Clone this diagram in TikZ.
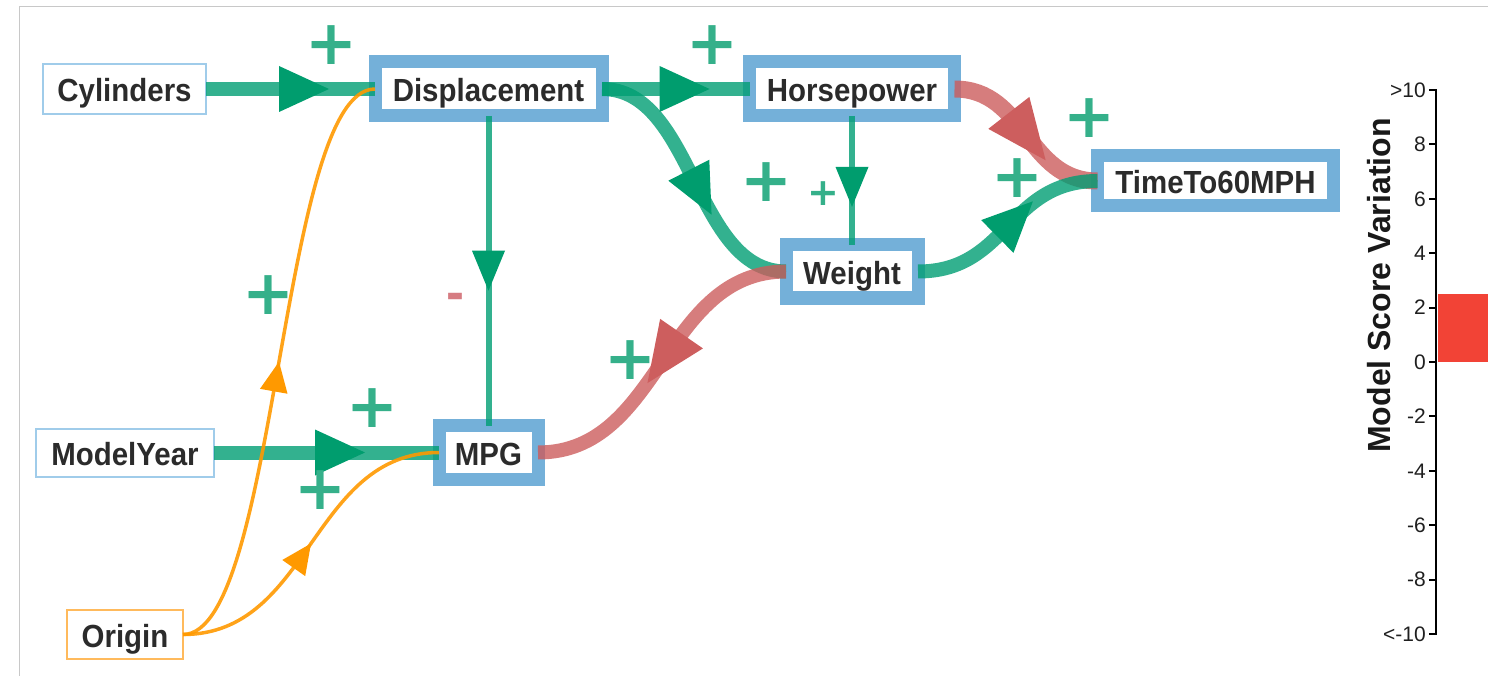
\documentclass[tikz,border=0pt]{standalone}
\usepackage{fontspec}
\usetikzlibrary{decorations.markings}
\newfontfamily\nodefont[FakeStretch=0.92]{Liberation Sans}
\newfontfamily\signfont{DejaVu Sans}
\newfontfamily\axisfont{Liberation Sans}

\definecolor{boxblue}{RGB}{116,176,217}
\definecolor{paleblue}{RGB}{160,204,234}
\definecolor{paleorange}{RGB}{255,186,92}
\definecolor{txt}{RGB}{43,43,43}
\definecolor{linkgreen}{RGB}{0,158,115}
\definecolor{headgreen}{RGB}{0,157,110}
\definecolor{linkred}{RGB}{204,92,92}
\definecolor{headred}{RGB}{205,94,94}
\definecolor{linkorange}{RGB}{255,153,0}
\definecolor{signgreen}{RGB}{53,176,138}
\definecolor{signred}{RGB}{214,124,130}
\definecolor{framegray}{RGB}{200,200,200}
\definecolor{barred}{RGB}{242,67,54}

\tikzset{
  labelfont/.style={font=\nodefont\bfseries\fontsize{32}{36}\selectfont, text=txt,
    text height=26pt, text depth=0pt},
  thickbox/.style={labelfont, draw=boxblue, line width=13pt, fill=white,
    outer sep=0pt, inner sep=0pt},
  thinbox/.style={labelfont, draw=#1, line width=2pt, fill=white,
    outer sep=0pt, inner sep=0pt},
  greenlink/.style={draw=linkgreen, draw opacity=0.8, line width=14pt},
  thingreen/.style={draw=linkgreen, draw opacity=0.8, line width=6pt},
  redlink/.style={draw=linkred, draw opacity=0.8, line width=#1},
  orangelink/.style={draw=linkorange, draw opacity=0.9, line width=3.5pt},
  bighead/.style 2 args={postaction={decorate}, decoration={markings,
    mark=at position #1 with {\fill[#2] (-25pt,23pt) -- (25pt,0pt) -- (-25pt,-23pt) -- cycle;}}},
  redhead/.style={postaction={decorate}, decoration={markings,
    mark=at position #1 with {\fill[headred] (-28pt,26pt) -- (32pt,0pt) -- (-28pt,-26pt) -- cycle;}}},
  smallhead/.style={postaction={decorate}, decoration={markings,
    mark=at position #1 with {\fill[headgreen] (-20pt,16.5pt) -- (20pt,0pt) -- (-20pt,-16.5pt) -- cycle;}}},
  orangehead/.style={postaction={decorate}, decoration={markings,
    mark=at position #1 with {\fill[linkorange] (-30pt,14pt) -- (0pt,0pt) -- (-30pt,-14pt) -- cycle;}}},
  plus/.style={font=\signfont\bfseries\fontsize{62}{62}\selectfont, text=signgreen, inner sep=0pt},
  smallplus/.style={font=\signfont\bfseries\fontsize{38}{38}\selectfont, text=signgreen, inner sep=0pt},
  minus/.style={font=\axisfont\bfseries\fontsize{54}{54}\selectfont, text=signred, inner sep=0pt},
  ticklabel/.style={font=\axisfont\fontsize{21}{24}\selectfont, text=black!88, anchor=east, inner sep=0pt},
}

\begin{document}
\begin{tikzpicture}[x=1pt,y=-1pt]
\useasboundingbox (0,0) rectangle (1488,676);
% panel frame
\draw[framegray, line width=1.5pt] (19.5,676) -- (19.5,6.5) -- (1488,6.5);

% variables
\node[thinbox=paleblue, minimum width=163pt, minimum height=50pt] (cyl) at (124.5,89) {Cylinders};
\node[thinbox=paleblue, minimum width=178pt, minimum height=48pt] (my) at (125,452.5) {ModelYear};
\node[thinbox=paleorange, minimum width=116pt, minimum height=49pt] (orig) at (125,634.5) {Origin};
\node[thickbox, minimum width=227pt, minimum height=54pt] (disp) at (488.5,89) {Displacement};
\node[thickbox, minimum width=205pt, minimum height=54pt] (hp) at (852,89) {Horsepower};
\node[thickbox, minimum width=132pt, minimum height=53pt] (wt) at (852,271.5) {Weight};
\node[thickbox, minimum width=236pt, minimum height=50pt] (time) at (1215.5,181) {TimeTo60MPH};
\node[thickbox, minimum width=99pt, minimum height=54pt] (mpg) at (488.5,452.5) {MPG};

% influences
\draw[greenlink, bighead={0.58}{headgreen}] (cyl.east) -- (disp.west);
\draw[greenlink, bighead={0.56}{headgreen}] (disp.east) -- (hp.west);
\draw[greenlink, bighead={0.55}{headgreen}] (disp.east) .. controls +(92,0) and +(-92,0) .. (wt.west);
\draw[thingreen, smallhead=0.5] (disp.south) -- (mpg.north);
\draw[thingreen, smallhead=0.55] (hp.south) -- (wt.north);
\draw[redlink=17pt, redhead=0.5] (hp.east) .. controls +(71.5,0) and +(-71.5,0) .. (time.west);
\draw[greenlink, bighead={0.55}{headgreen}] (wt.east) .. controls +(90,0) and +(-90,0) .. (time.west);
\draw[redlink=14pt, redhead=0.48] (wt.west) .. controls +(-123.5,0) and +(123.5,0) .. (mpg.east);
\draw[greenlink, bighead={0.56}{headgreen}] (my.east) -- (mpg.west);
\draw[orangelink, orangehead=0.5] (orig.east) .. controls +(95,0) and +(-95,0) .. (disp.west);
\draw[orangelink, orangehead=0.5] (orig.east) .. controls +(128,0) and +(-128,0) .. (mpg.west);

% signs of the influences
\node[plus] (s1) at (331,45) {+};
\node[plus] (s2) at (712,45) {+};
\node[plus] (s3) at (766,182) {+};
\node[smallplus] (s4) at (823,194) {+};
\node[plus] (s5) at (1089,118) {+};
\node[plus] (s6) at (1017,178) {+};
\node[plus] (s7) at (268,295) {+};
\node[plus] (s8) at (372,408) {+};
\node[plus] (s9) at (320,490) {+};
\node[plus] (s10) at (630,360) {+};
\node[minus] (m1) at (455,302) {-};

% score scale
\fill[barred] (1438,294) rectangle (1488,362);
\draw[black, line width=2pt] (1436,90) -- (1436,634);
\foreach \i/\lab in {0/{>10},1/8,2/6,3/4,4/2,5/0,6/-2,7/-4,8/-6,9/-8,10/{<-10}}{
  \draw[black, line width=2pt] (1429,90+\i*54.4) -- (1437,90+\i*54.4);
  \node[ticklabel] (tick\i) at (1426,90+\i*54.4) {\lab};
}
\node[rotate=90, font=\axisfont\bfseries\fontsize{32}{36}\selectfont, text=black!90, inner sep=0pt] (axtitle) at (1379,285.5) {Model Score Variation};
\end{tikzpicture}
\end{document}
